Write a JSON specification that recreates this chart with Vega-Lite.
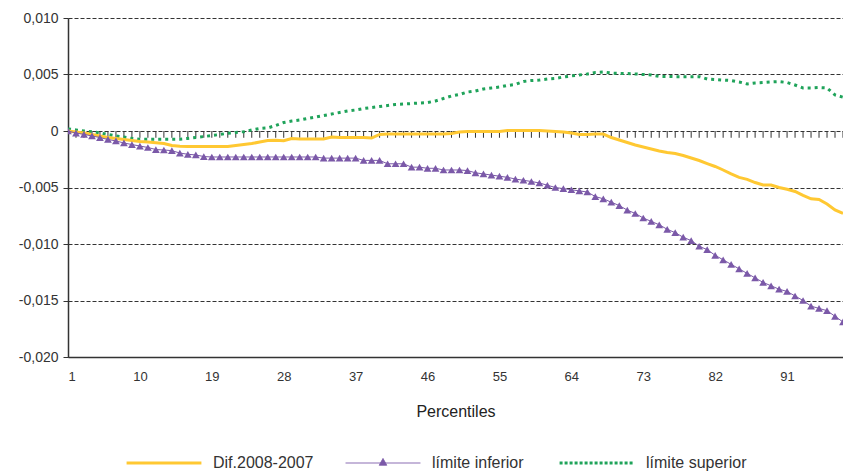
{
  "$schema": "https://vega.github.io/schema/vega-lite/v6.json",
  "width": 775,
  "height": 339,
  "autosize": "none",
  "padding": {"left": 68, "top": 18, "right": 0, "bottom": 116},
  "background": "white",
  "config": {
    "view": {"stroke": null},
    "font": "Liberation Sans",
    "axis": {"labelFont": "Liberation Sans", "titleFont": "Liberation Sans"}
  },
  "data": {"values": [
    {"p":1,"d":0,"i":0,"s":0.00018},
    {"p":2,"d":-0.00009,"i":-0.00018,"s":0.00009},
    {"p":3,"d":-0.00018,"i":-0.0003,"s":0},
    {"p":4,"d":-0.0003,"i":-0.00044,"s":-0.00006},
    {"p":5,"d":-0.00044,"i":-0.00058,"s":-0.00018},
    {"p":6,"d":-0.00058,"i":-0.00075,"s":-0.00031},
    {"p":7,"d":-0.00066,"i":-0.00088,"s":-0.00044},
    {"p":8,"d":-0.00075,"i":-0.00106,"s":-0.00053},
    {"p":9,"d":-0.00084,"i":-0.0012,"s":-0.00066},
    {"p":10,"d":-0.00093,"i":-0.00133,"s":-0.00073},
    {"p":11,"d":-0.00097,"i":-0.00146,"s":-0.00073},
    {"p":12,"d":-0.00103,"i":-0.00164,"s":-0.00074},
    {"p":13,"d":-0.0011,"i":-0.00168,"s":-0.00074},
    {"p":14,"d":-0.00128,"i":-0.00174,"s":-0.00073},
    {"p":15,"d":-0.00135,"i":-0.00195,"s":-0.00072},
    {"p":16,"d":-0.00137,"i":-0.00206,"s":-0.00066},
    {"p":17,"d":-0.00137,"i":-0.00212,"s":-0.00058},
    {"p":18,"d":-0.00137,"i":-0.00226,"s":-0.00049},
    {"p":19,"d":-0.00137,"i":-0.0023,"s":-0.0004},
    {"p":20,"d":-0.00137,"i":-0.0023,"s":-0.00031},
    {"p":21,"d":-0.00137,"i":-0.0023,"s":-0.0002},
    {"p":22,"d":-0.00128,"i":-0.0023,"s":-0.00013},
    {"p":23,"d":-0.0012,"i":-0.0023,"s":-0.00006},
    {"p":24,"d":-0.00111,"i":-0.0023,"s":0.00009},
    {"p":25,"d":-0.00097,"i":-0.0023,"s":0.00022},
    {"p":26,"d":-0.00084,"i":-0.0023,"s":0.00027},
    {"p":27,"d":-0.00082,"i":-0.0023,"s":0.00049},
    {"p":28,"d":-0.00086,"i":-0.0023,"s":0.00075},
    {"p":29,"d":-0.00066,"i":-0.0023,"s":0.00088},
    {"p":30,"d":-0.00071,"i":-0.0023,"s":0.00097},
    {"p":31,"d":-0.00071,"i":-0.0023,"s":0.00111},
    {"p":32,"d":-0.00071,"i":-0.0023,"s":0.00124},
    {"p":33,"d":-0.00071,"i":-0.0024,"s":0.00137},
    {"p":34,"d":-0.00053,"i":-0.0024,"s":0.0015},
    {"p":35,"d":-0.00058,"i":-0.0024,"s":0.00164},
    {"p":36,"d":-0.00058,"i":-0.0024,"s":0.00177},
    {"p":37,"d":-0.00058,"i":-0.0024,"s":0.00186},
    {"p":38,"d":-0.00058,"i":-0.0026,"s":0.00199},
    {"p":39,"d":-0.00062,"i":-0.0026,"s":0.00208},
    {"p":40,"d":-0.0003,"i":-0.0026,"s":0.00217},
    {"p":41,"d":-0.00027,"i":-0.0029,"s":0.00226},
    {"p":42,"d":-0.00027,"i":-0.0029,"s":0.00235},
    {"p":43,"d":-0.00027,"i":-0.0029,"s":0.00239},
    {"p":44,"d":-0.00027,"i":-0.0032,"s":0.00243},
    {"p":45,"d":-0.00027,"i":-0.0032,"s":0.00248},
    {"p":46,"d":-0.00027,"i":-0.0033,"s":0.00252},
    {"p":47,"d":-0.00027,"i":-0.0033,"s":0.00266},
    {"p":48,"d":-0.00027,"i":-0.00345,"s":0.00288},
    {"p":49,"d":-0.00022,"i":-0.00345,"s":0.0031},
    {"p":50,"d":-0.00009,"i":-0.00345,"s":0.00323},
    {"p":51,"d":-0.00004,"i":-0.0035,"s":0.00345},
    {"p":52,"d":-0.00004,"i":-0.0037,"s":0.00354},
    {"p":53,"d":-0.00004,"i":-0.0038,"s":0.00372},
    {"p":54,"d":-0.00004,"i":-0.0039,"s":0.00381},
    {"p":55,"d":-0.00004,"i":-0.004,"s":0.00389},
    {"p":56,"d":0.00004,"i":-0.0041,"s":0.00403},
    {"p":57,"d":0.00004,"i":-0.00425,"s":0.00412},
    {"p":58,"d":0.00004,"i":-0.00436,"s":0.00438},
    {"p":59,"d":0.00004,"i":-0.00447,"s":0.00447},
    {"p":60,"d":0.00004,"i":-0.0046,"s":0.00451},
    {"p":61,"d":0,"i":-0.0048,"s":0.0046},
    {"p":62,"d":-0.00004,"i":-0.005,"s":0.00465},
    {"p":63,"d":-0.00009,"i":-0.0051,"s":0.00478},
    {"p":64,"d":-0.00018,"i":-0.0052,"s":0.00487},
    {"p":65,"d":-0.0003,"i":-0.0053,"s":0.00496},
    {"p":66,"d":-0.0003,"i":-0.0054,"s":0.00505},
    {"p":67,"d":-0.00027,"i":-0.0058,"s":0.00518},
    {"p":68,"d":-0.00027,"i":-0.006,"s":0.00522},
    {"p":69,"d":-0.00058,"i":-0.0063,"s":0.00513},
    {"p":70,"d":-0.0008,"i":-0.0066,"s":0.0051},
    {"p":71,"d":-0.00102,"i":-0.007,"s":0.00509},
    {"p":72,"d":-0.00124,"i":-0.0073,"s":0.00505},
    {"p":73,"d":-0.00142,"i":-0.0077,"s":0.005},
    {"p":74,"d":-0.00159,"i":-0.008,"s":0.00496},
    {"p":75,"d":-0.00177,"i":-0.0083,"s":0.00483},
    {"p":76,"d":-0.0019,"i":-0.0087,"s":0.00483},
    {"p":77,"d":-0.00199,"i":-0.009,"s":0.00481},
    {"p":78,"d":-0.00217,"i":-0.0094,"s":0.00481},
    {"p":79,"d":-0.00239,"i":-0.0097,"s":0.00481},
    {"p":80,"d":-0.00261,"i":-0.0102,"s":0.00481},
    {"p":81,"d":-0.00288,"i":-0.0105,"s":0.0046},
    {"p":82,"d":-0.00314,"i":-0.011,"s":0.00456},
    {"p":83,"d":-0.00345,"i":-0.0114,"s":0.00451},
    {"p":84,"d":-0.0038,"i":-0.0118,"s":0.00447},
    {"p":85,"d":-0.0041,"i":-0.0122,"s":0.00434},
    {"p":86,"d":-0.00428,"i":-0.0126,"s":0.00416},
    {"p":87,"d":-0.00456,"i":-0.013,"s":0.00425},
    {"p":88,"d":-0.00478,"i":-0.0134,"s":0.00429},
    {"p":89,"d":-0.00478,"i":-0.0137,"s":0.00434},
    {"p":90,"d":-0.005,"i":-0.014,"s":0.00437},
    {"p":91,"d":-0.00516,"i":-0.0142,"s":0.00429},
    {"p":92,"d":-0.00535,"i":-0.0146,"s":0.00407},
    {"p":93,"d":-0.0057,"i":-0.015,"s":0.00381},
    {"p":94,"d":-0.006,"i":-0.0155,"s":0.00381},
    {"p":95,"d":-0.00606,"i":-0.0157,"s":0.00385},
    {"p":96,"d":-0.00646,"i":-0.0159,"s":0.00381},
    {"p":97,"d":-0.00699,"i":-0.0164,"s":0.00319},
    {"p":98,"d":-0.0073,"i":-0.0169,"s":0.00299}
  ]},
  "encoding": {
    "x": {
      "field": "p", "type": "quantitative",
      "scale": {"domain": [1, 98], "nice": false, "zero": false},
      "axis": {
        "title": "Percentiles",
        "values": [1, 10, 19, 28, 37, 46, 55, 64, 73, 82, 91],
        "grid": false, "ticks": false, "labelPadding": 13,
        "labelFontSize": 13, "labelColor": "#333", "labelFontWeight": "normal",
        "domainColor": "#333", "domainWidth": 1.5,
        "titleFontSize": 16, "titleFontWeight": "normal", "titleColor": "#222",
        "titlePadding": 20
      }
    }
  },
  "layer": [
    {
      "mark": {"type": "rule", "color": "#333", "strokeWidth": 1.5},
      "encoding": {
        "x": {"value": 0},
        "y": {"datum": 0, "type": "quantitative",
          "scale": {"domain": [-0.02, 0.01], "nice": false, "zero": false},
          "axis": {
            "title": null,
            "values": [-0.02, -0.015, -0.01, -0.005, 0, 0.005, 0.01],
            "labelExpr": "datum.value == 0 ? '0' : replace(replace(format(datum.value, '.3f'), '.', ','), '\u2212', '-')",
            "grid": true, "gridDash": [4, 2], "gridColor": "#333", "gridWidth": 1,
            "tickSize": 5, "tickColor": "#333", "labelPadding": 5,
            "labelFontSize": 14, "labelColor": "#333",
            "domainColor": "#333", "domainWidth": 1.5
          }
        }
      }
    },
    {
      "mark": {"type": "rule", "color": "#333", "strokeWidth": 1, "clip": true},
      "encoding": {
        "y": {"datum": 0, "type": "quantitative"},
        "y2": {"datum": -0.0006}
      }
    },
    {
      "transform": [{"fold": ["d", "i", "s"], "as": ["key", "val"]}, {"filter": "datum.key == 's'"}],
      "mark": {"type": "line", "strokeWidth": 3, "strokeDash": [3, 4], "strokeCap": "butt", "clip": true},
      "encoding": {
        "y": {"field": "val", "type": "quantitative"},
        "color": {"field": "key", "type": "nominal",
          "scale": {"domain": ["d", "i", "s"], "range": ["#ffc832", "#7b59a8", "#1fa35a"]},
          "legend": {
            "title": null, "orient": "none", "legendX": 88, "legendY": 437,
            "direction": "horizontal",
            "labelExpr": "datum.value == 'd' ? 'Dif.2008-2007' : datum.value == 'i' ? 'límite inferior' : 'límite superior'",
            "labelFontSize": 16, "labelColor": "#333", "labelOffset": 41,
            "symbolSize": 5600, "symbolStrokeWidth": 3, "symbolType": "stroke",
            "columnPadding": 29,
            "encode": {"symbols": {"update": {
              "shape": {"signal": "datum.value === 'i' ? 'M-1,0H1M0,-0.12L0.1,0.06L-0.1,0.06Z' : 'stroke'"},
              "strokeWidth": {"signal": "datum.value === 'i' ? 1 : 3"},
              "strokeDash": {"signal": "datum.value === 's' ? [3, 2] : [1, 0]"},
              "fill": {"signal": "datum.value === 'i' ? '#7b59a8' : 'transparent'"}
            }}}
          }
        }
      }
    },
    {
      "transform": [{"fold": ["d", "i", "s"], "as": ["key", "val"]}, {"filter": "datum.key == 'd'"}],
      "mark": {"type": "line", "strokeWidth": 3, "clip": true},
      "encoding": {
        "y": {"field": "val", "type": "quantitative"},
        "color": {"field": "key", "type": "nominal"}
      }
    },
    {
      "transform": [{"fold": ["d", "i", "s"], "as": ["key", "val"]}, {"filter": "datum.key == 'i'"}],
      "mark": {"type": "line", "strokeWidth": 1, "clip": true},
      "encoding": {
        "y": {"field": "val", "type": "quantitative"},
        "color": {"field": "key", "type": "nominal"}
      }
    },
    {
      "transform": [{"fold": ["d", "i", "s"], "as": ["key", "val"]}, {"filter": "datum.key == 'i'"}],
      "mark": {"type": "point", "shape": "triangle-up", "filled": true, "size": 60, "opacity": 1, "clip": true},
      "encoding": {
        "y": {"field": "val", "type": "quantitative"},
        "color": {"value": "#7b59a8"}
      }
    }
  ]
}
